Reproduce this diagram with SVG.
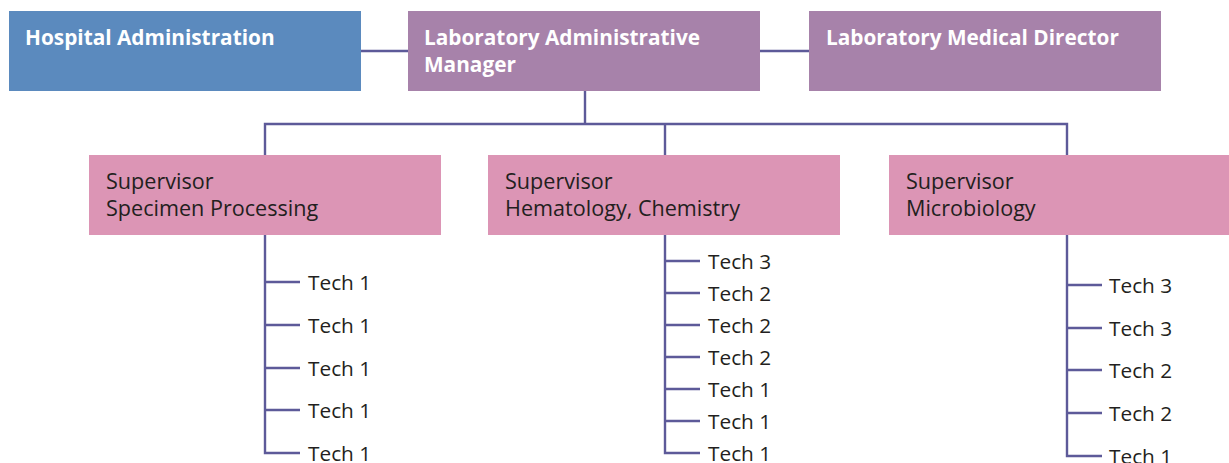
<svg xmlns="http://www.w3.org/2000/svg" width="1229" height="463" viewBox="0 0 1229 463">
<style>
.blue{fill:#5b8abe}
.purple{fill:#a782aa}
.pink{fill:#dc95b5}
.hd{font-family:"Open Sans","Liberation Sans",sans-serif;font-weight:bold;font-size:20.8px;fill:#ffffff}
.sv{font-family:"Open Sans","Liberation Sans",sans-serif;font-size:21.6px;fill:#231f20}
.tk{font-family:"Open Sans","Liberation Sans",sans-serif;font-size:20.8px;fill:#231f20}
.ln{stroke:#5d5a99;stroke-width:2.4;fill:none}
</style>
<rect width="1229" height="463" fill="#ffffff"/>
<g id="connectors">
<path class="ln" d="M361 51H408M760 51H809"/>
<path class="ln" d="M585 91V124M265 155V124H1067V155M665 124V155"/>
<path class="ln" d="M265 235V453H300M265 282H300M265 325H300M265 368H300M265 410H300"/>
<path class="ln" d="M665 235V453H700M665 261H700M665 293H700M665 325H700M665 357H700M665 389H700M665 421H700"/>
<path class="ln" d="M1067 235V456H1102M1067 285H1102M1067 328H1102M1067 370H1102M1067 413H1102"/>
</g>
<g id="hospital-administration">
<rect class="blue" x="9" y="11" width="352" height="80"/>
<text class="hd" x="25" y="45">Hospital Administration</text>
</g>
<g id="lab-admin-manager">
<rect class="purple" x="408" y="11" width="352" height="80"/>
<text class="hd" x="424" y="45">Laboratory Administrative</text>
<text class="hd" x="424" y="72">Manager</text>
</g>
<g id="lab-medical-director">
<rect class="purple" x="809" y="11" width="352" height="80"/>
<text class="hd" x="826" y="45">Laboratory Medical Director</text>
</g>
<g id="sup-specimen">
<rect class="pink" x="89" y="155" width="352" height="80"/>
<text class="sv" x="106" y="189">Supervisor</text>
<text class="sv" x="106" y="216">Specimen Processing</text>
</g>
<g id="sup-hematology">
<rect class="pink" x="488" y="155" width="352" height="80"/>
<text class="sv" x="505" y="189">Supervisor</text>
<text class="sv" x="505" y="216">Hematology, Chemistry</text>
</g>
<g id="sup-micro">
<rect class="pink" x="889" y="155" width="352" height="80"/>
<text class="sv" x="906" y="189">Supervisor</text>
<text class="sv" x="906" y="216">Microbiology</text>
</g>
<g id="techs-specimen">
<text class="tk" x="308" y="290">Tech 1</text>
<text class="tk" x="308" y="333">Tech 1</text>
<text class="tk" x="308" y="376">Tech 1</text>
<text class="tk" x="308" y="418">Tech 1</text>
<text class="tk" x="308" y="461">Tech 1</text>
</g>
<g id="techs-hematology">
<text class="tk" x="708" y="269">Tech 3</text>
<text class="tk" x="708" y="301">Tech 2</text>
<text class="tk" x="708" y="333">Tech 2</text>
<text class="tk" x="708" y="365">Tech 2</text>
<text class="tk" x="708" y="397">Tech 1</text>
<text class="tk" x="708" y="429">Tech 1</text>
<text class="tk" x="708" y="461">Tech 1</text>
</g>
<g id="techs-micro">
<text class="tk" x="1109" y="293">Tech 3</text>
<text class="tk" x="1109" y="336">Tech 3</text>
<text class="tk" x="1109" y="378">Tech 2</text>
<text class="tk" x="1109" y="421">Tech 2</text>
<text class="tk" x="1109" y="464">Tech 1</text>
</g>
</svg>
